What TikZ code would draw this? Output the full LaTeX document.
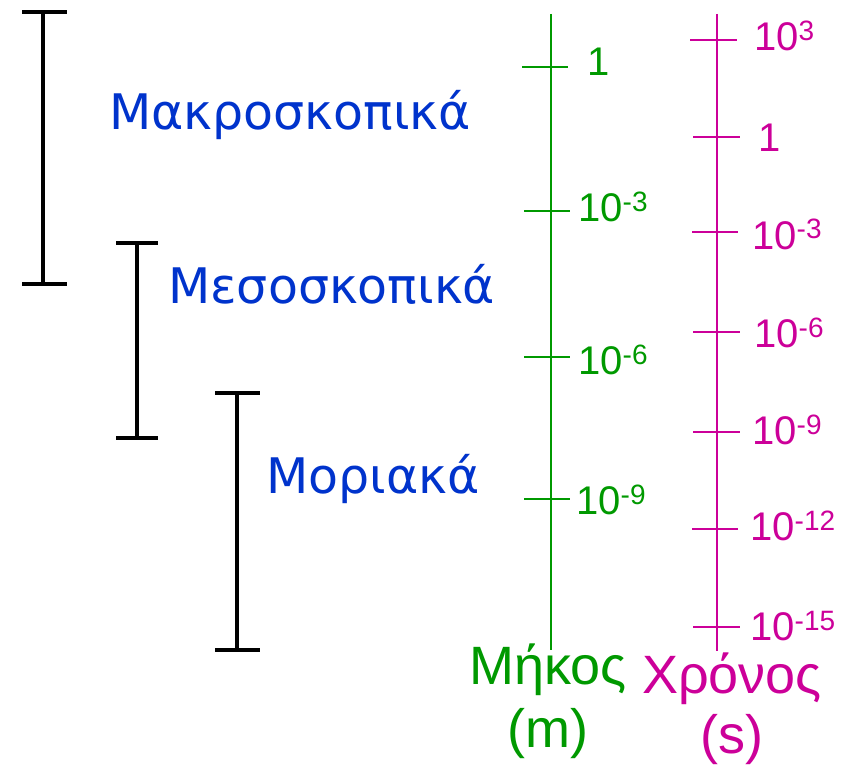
\documentclass[tikz,border=0pt]{standalone}
\usepackage{fontspec}
\setmainfont{Liberation Sans}
\newfontfamily\rangefont{DejaVu Sans}
\definecolor{rangeblue}{RGB}{0,51,204}
\definecolor{lengreen}{RGB}{0,153,0}
\definecolor{timemag}{RGB}{204,0,153}
% power of ten with a raised exponent
\newcommand\pten[1]{10\raisebox{10pt}{\fontsize{28}{28}\selectfont #1}}
\tikzset{
  rangebar/.style={line width=4pt, black},
  rangelabel/.style={anchor=base west, inner sep=0pt, text=rangeblue,
    font=\rangefont\fontsize{49}{60}\selectfont},
  lenaxis/.style={line width=2pt, lengreen},
  timeaxis/.style={line width=2pt, timemag},
  lentick/.style={anchor=base west, inner sep=0pt, text=lengreen,
    font=\fontsize{40}{48}\selectfont},
  timetick/.style={anchor=base west, inner sep=0pt, text=timemag,
    font=\fontsize{40}{48}\selectfont},
  axistitle/.style={anchor=base, inner sep=0pt, font=\fontsize{54}{60}\selectfont},
}
\begin{document}
\begin{tikzpicture}[x=1pt, y=-1pt]
\useasboundingbox (0,0) rectangle (846,770);

% range brackets
\draw[rangebar] (22,12) -- (67,12) (43,12) -- (43,284) (22,284) -- (67,284);
\draw[rangebar] (116,243) -- (158,243) (137,243) -- (137,438) (116,438) -- (158,438);
\draw[rangebar] (215,393) -- (260,393) (237,393) -- (237,650) (215,650) -- (260,650);

\node[rangelabel] (macro) at (109,130) {Μακροσκοπικά};
\node[rangelabel] (meso)  at (168,303) {Μεσοσκοπικά};
\node[rangelabel] (mol)   at (266,493) {Μοριακά};

% length axis
\coordinate (ltop) at (551,14);
\coordinate (lbot) at (551,650);
\draw[lenaxis] (ltop) -- (lbot);
\draw[lenaxis] (522,67) -- (568,67);
\draw[lenaxis] (524,211) -- (570,211);
\draw[lenaxis] (524,357) -- (570,357);
\draw[lenaxis] (524,499) -- (570,499);
\node[lentick] (l0) at (587,76) {1};
\node[lentick] (l3) at (578,222) {\pten{-3}};
\node[lentick] (l6) at (578,374) {\pten{-6}};
\node[lentick] (l9) at (576,514) {\pten{-9}};

% time axis
\coordinate (ttop) at (717,14);
\coordinate (tbot) at (717,651);
\draw[timeaxis] (ttop) -- (tbot);
\draw[timeaxis] (690,40) -- (737,40);
\draw[timeaxis] (693,137) -- (740,137);
\draw[timeaxis] (692,232) -- (738,232);
\draw[timeaxis] (693,332) -- (740,332);
\draw[timeaxis] (693,432) -- (740,432);
\draw[timeaxis] (692,529) -- (738,529);
\draw[timeaxis] (693,627) -- (740,627);
\node[timetick] (tp3)  at (754,51)  {\pten{3}};
\node[timetick] (t0)   at (758,152) {1};
\node[timetick] (tm3)  at (752,249) {\pten{-3}};
\node[timetick] (tm6)  at (754,347) {\pten{-6}};
\node[timetick] (tm9)  at (752,444) {\pten{-9}};
\node[timetick] (tm12) at (750,540) {\pten{-12}};
\node[timetick] (tm15) at (750,640) {\pten{-15}};

% axis titles
\node[axistitle, text=lengreen] (lname) at (548,684) {Μήκος};
\node[axistitle, text=lengreen] (lunit) at (548,747) {(m)};
\node[axistitle, text=timemag] (tname) at (732,693) {Χρόνος};
\node[axistitle, text=timemag] (tunit) at (732,753) {(s)};
\end{tikzpicture}
\end{document}
